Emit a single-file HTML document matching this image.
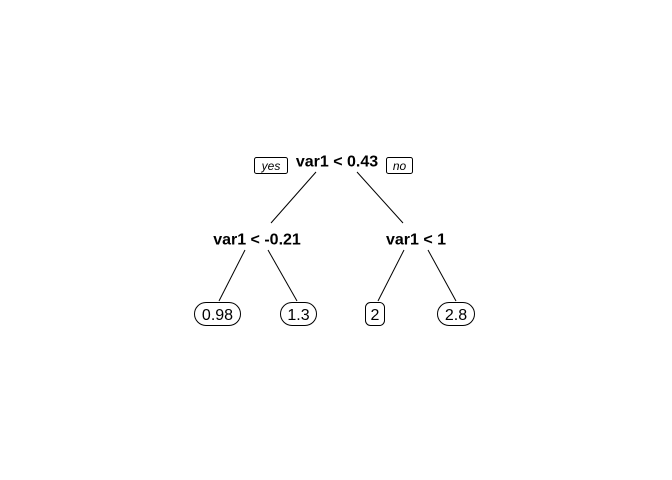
<!DOCTYPE html>
<html><head><style>
html,body{margin:0;padding:0;background:#fff;}
svg{display:block;}
</style></head><body>
<svg width="672" height="480" xmlns="http://www.w3.org/2000/svg" font-family="Liberation Sans, Arial, sans-serif">
<rect width="672" height="480" fill="#fff"/>
<g stroke="#000" stroke-width="1" fill="none">
<line x1="316" y1="172" x2="271" y2="223"/>
<line x1="357" y1="172" x2="403" y2="223"/>
<line x1="245" y1="250" x2="219" y2="301"/>
<line x1="268" y1="250" x2="297" y2="301"/>
<line x1="404" y1="250" x2="378" y2="301"/>
<line x1="428" y1="250" x2="456" y2="301"/>
<rect x="254.5" y="157.5" width="33" height="16" rx="2"/>
<rect x="386.5" y="157.5" width="26" height="16" rx="2"/>
<rect x="194.5" y="302.5" width="46" height="23" rx="11.5"/>
<rect x="280.5" y="302.5" width="36" height="23" rx="11.5"/>
<rect x="365.5" y="302.5" width="19" height="23" rx="5"/>
<rect x="437.5" y="302.5" width="37" height="23" rx="11.5"/>
</g>
<g fill="#000" text-anchor="middle">
<text x="271" y="170" font-size="12" font-style="italic">yes</text>
<text x="399.5" y="170" font-size="12" font-style="italic">no</text>
<text x="337" y="166.5" font-size="16" font-weight="bold">var1 &lt; 0.43</text>
<text x="257" y="244.5" font-size="16" font-weight="bold">var1 &lt; -0.21</text>
<text x="416" y="244.5" font-size="16" font-weight="bold">var1 &lt; 1</text>
<text x="217.5" y="320" font-size="16">0.98</text>
<text x="298.5" y="320" font-size="16">1.3</text>
<text x="375" y="320" font-size="16">2</text>
<text x="456" y="320" font-size="16">2.8</text>
</g>
</svg>
</body></html>
